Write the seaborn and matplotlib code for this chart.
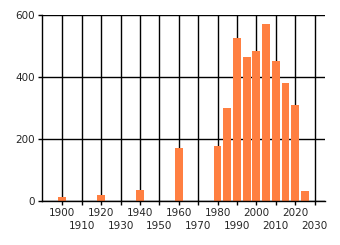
import matplotlib
matplotlib.use("Agg")
import matplotlib.pyplot as plt
import seaborn as sns
import pandas as pd

years = [1900, 1920, 1940, 1960, 1980, 1985, 1990, 1995, 2000, 2005, 2010, 2015, 2020, 2025]
counts = [13, 20, 36, 173, 179, 301, 527, 465, 485, 572, 452, 381, 310, 33]
tick_years_row1 = [1900, 1920, 1940, 1960, 1980, 2000, 2020]
tick_years_row2 = [1910, 1930, 1950, 1970, 1990, 2010, 2030]
y_ticks = [0, 200, 400, 600]

sns.set_theme(style="white")
plt.rcParams['font.family'] = ['DejaVu Sans']

df = pd.DataFrame({"year": years, "count": counts})

fig = plt.figure(figsize=(3.4, 2.45), dpi=100)
ax = fig.add_axes([42/340, 1-201.3/245, (325-42)/340, (201.3-15.3)/245])

sns.barplot(data=df, x="year", y="count", native_scale=True, color="#ff7f41",
            saturation=1, width=0.8, edgecolor="none", linewidth=0, ax=ax)

ax.set_xlim(1889.5, 2035.4)
ax.set_ylim(0, 600)
ax.set_xticks(tick_years_row1)
ax.set_xticklabels([str(t) for t in tick_years_row1])
ax.set_xticks(tick_years_row2, minor=True)
ax.set_xticklabels([str(t) for t in tick_years_row2], minor=True)
ax.set_yticks(y_ticks)
ax.set_xlabel("")
ax.set_ylabel("")
ax.set_axisbelow(True)
ax.grid(True, which="both", axis="x", color="black", linewidth=1)
ax.grid(True, which="major", axis="y", color="black", linewidth=1)
for s in ["top", "right"]:
    ax.spines[s].set_visible(False)
for s in ["left", "bottom"]:
    ax.spines[s].set_color("black")
    ax.spines[s].set_linewidth(1)
ax.tick_params(axis="both", which="both", length=3, width=1, color="black",
               labelsize=7.5, direction="out", bottom=True, left=True)
ax.tick_params(axis="x", which="major", pad=1.5)
ax.tick_params(axis="x", which="minor", pad=11.5)
ax.tick_params(axis="y", which="major", pad=2)

fig.savefig("out.png", dpi=100)
